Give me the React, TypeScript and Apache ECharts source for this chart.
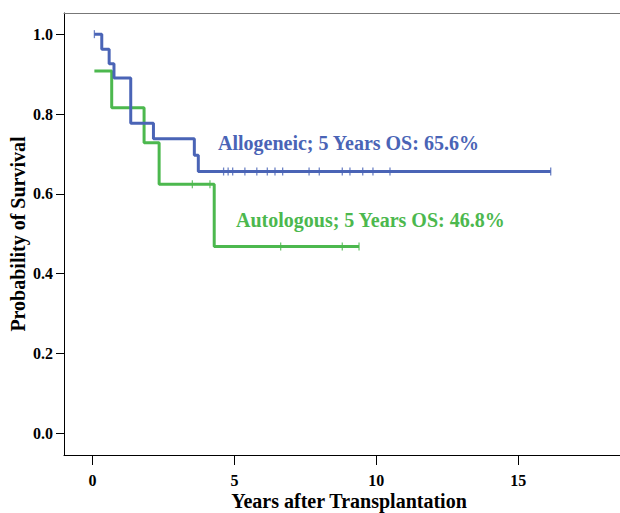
import React, { useEffect, useRef } from "react";
import * as echarts from "echarts";

// Allogeneic (blue): event times and survival after each step
const alloStart = 0.07;
const alloEventTimes = [0.33, 0.59, 0.76, 1.35, 2.15, 3.59, 3.73];
const alloSurvival = [0.962, 0.926, 0.89, 0.777, 0.738, 0.697, 0.656];
const alloEnd = 16.14;
const alloCensor = [0.07, 4.62, 4.78, 4.94, 5.37, 5.79, 6.16, 6.43, 6.7, 7.63, 7.99, 8.8, 9.07, 9.52, 9.88, 10.48, 16.14];

// Autologous (green)
const autoStart = 0.07;
const autoStartSurvival = 0.908;
const autoEventTimes = [0.68, 1.82, 2.35, 4.29];
const autoSurvival = [0.816, 0.728, 0.624, 0.468];
const autoEnd = 9.39;
const autoCensor = [3.52, 4.14, 6.63, 8.8, 9.39];

const xMin = -1;
const xMax = 18.58;
const xTickStep = 5;
const yTicks = [0, 0.2, 0.4, 0.6, 0.8, 1.0];

const alloLabel = "Allogeneic; 5 Years OS: 65.6%";
const autoLabel = "Autologous; 5 Years OS: 46.8%";

const BLUE = "#4a64b6";
const GREEN = "#4cb84e";
const FONT = "'Liberation Serif', 'Times New Roman', serif";

function stepPoints(start: number, s0: number, times: number[], surv: number[], end: number) {
  const pts: number[][] = [[start, s0]];
  let prev = s0;
  times.forEach((t, i) => {
    pts.push([t, prev]);
    pts.push([t, surv[i]]);
    prev = surv[i];
  });
  pts.push([end, prev]);
  return pts;
}

function levelAt(t: number, s0: number, times: number[], surv: number[]) {
  let s = s0;
  times.forEach((et, i) => {
    if (t >= et) s = surv[i];
  });
  return s;
}

export default function App() {
  const ref = useRef<HTMLDivElement>(null);
  useEffect(() => {
    if (!ref.current) return;
    const chart = echarts.init(ref.current, null, { renderer: "svg" });
    const alloLine = stepPoints(alloStart, 1.0, alloEventTimes, alloSurvival, alloEnd);
    const autoLine = stepPoints(autoStart, autoStartSurvival, autoEventTimes, autoSurvival, autoEnd);
    const alloMarks = alloCensor.map((t) => [t, levelAt(t, 1.0, alloEventTimes, alloSurvival)]);
    const autoMarks = autoCensor.map((t) => [t, levelAt(t, autoStartSurvival, autoEventTimes, autoSurvival)]);

    const plotLeft = 64;
    const plotWidth = 556;
    const pxPerYear = plotWidth / (xMax - xMin);
    const zeroLeft = plotLeft + (0 - xMin) * pxPerYear;

    chart.setOption({
      animation: false,
      backgroundColor: "#fff",
      grid: [
        { left: plotLeft, top: 13, right: 0, height: 442, show: false, outerBoundsMode: "none", containLabel: false },
        // band under the plot that holds the x-axis tick marks (drawn as split lines)
        { left: zeroLeft, top: 455, right: 0, height: 10, show: false, outerBoundsMode: "none", containLabel: false },
      ],
      xAxis: [
        {
          type: "value",
          gridIndex: 0,
          position: "bottom",
          min: xMin,
          max: xMax,
          name: "Years after Transplantation",
          nameLocation: "middle",
          nameGap: 36,
          nameMoveOverlap: false,
          nameTextStyle: { fontFamily: FONT, fontWeight: "bold", fontSize: 20, color: "#000", padding: [0, 0, 0, 14] },
          axisLine: { show: true, onZero: false, lineStyle: { color: "#000", width: 1 } },
          axisTick: { show: false },
          axisLabel: { show: false },
          splitLine: { show: false },
        },
        {
          type: "value",
          gridIndex: 0,
          position: "top",
          min: xMin,
          max: xMax,
          axisLine: { show: true, onZero: false, lineStyle: { color: "#777", width: 1 } },
          axisTick: { show: false },
          axisLabel: { show: false },
          splitLine: { show: false },
        },
        {
          type: "value",
          gridIndex: 1,
          position: "bottom",
          min: 0,
          max: xMax,
          interval: xTickStep,
          axisLine: { show: false, onZero: false },
          axisTick: { show: false },
          axisLabel: {
            show: true,
            showMaxLabel: false,
            fontFamily: FONT,
            fontWeight: "bold",
            fontSize: 16,
            color: "#000",
            margin: 7,
          },
          splitLine: { show: true, lineStyle: { color: "#000", width: 1, type: "solid" } },
        },
      ],
      yAxis: [
        {
          type: "value",
          gridIndex: 0,
          min: -0.054,
          max: 1.053,
          name: "Probability of Survival",
          nameLocation: "middle",
          nameGap: 36,
          nameRotate: 90,
          nameMoveOverlap: false,
          nameTextStyle: { fontFamily: FONT, fontWeight: "bold", fontSize: 20, color: "#000" },
          axisLine: { show: true, onZero: false, lineStyle: { color: "#000", width: 1 } },
          axisTick: { show: true, length: 8, lineStyle: { color: "#000" }, customValues: yTicks },
          axisLabel: {
            customValues: yTicks,
            formatter: (v: number) => v.toFixed(1),
            fontFamily: FONT,
            fontWeight: "bold",
            fontSize: 16,
            color: "#000",
            margin: 11,
          },
          splitLine: { show: false },
        },
        {
          type: "value",
          gridIndex: 1,
          min: 0,
          max: 1,
          show: false,
        },
      ],
      series: [
        {
          type: "line",
          data: autoLine,
          showSymbol: false,
          lineStyle: { color: GREEN, width: 3 },
          z: 2,
        },
        {
          type: "line",
          data: alloLine,
          showSymbol: false,
          lineStyle: { color: BLUE, width: 3 },
          z: 3,
        },
        {
          type: "scatter",
          data: autoMarks,
          symbol: "rect",
          symbolSize: [1.3, 8],
          itemStyle: { color: GREEN },
          z: 4,
        },
        {
          type: "scatter",
          data: alloMarks,
          symbol: "rect",
          symbolSize: [1.3, 8],
          itemStyle: { color: BLUE },
          z: 4,
        },
      ],
      graphic: [
        {
          type: "text",
          left: 218,
          top: 133,
          style: { text: alloLabel, fill: BLUE, font: `bold 20px ${FONT}` },
        },
        {
          type: "text",
          left: 236,
          top: 210,
          style: { text: autoLabel, fill: GREEN, font: `bold 20px ${FONT}` },
        },
      ],
    });
    return () => chart.dispose();
  }, []);
  return (
    <div
      ref={ref}
      style={{ position: "fixed", left: 0, top: 0, width: 620, height: 513, overflow: "hidden" }}
    />
  );
}
